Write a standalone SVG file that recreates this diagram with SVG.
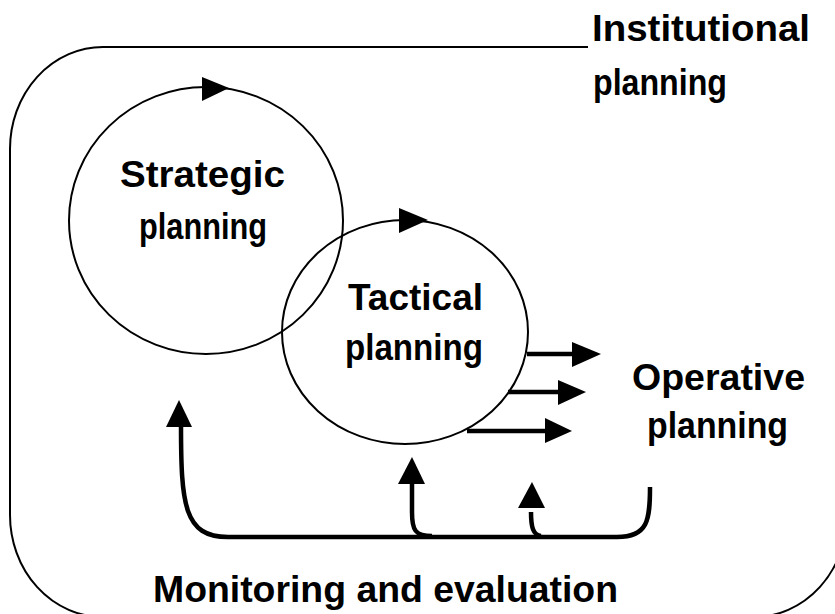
<svg xmlns="http://www.w3.org/2000/svg" width="835" height="614" viewBox="0 0 835 614">
<style>
.thin{fill:none;stroke:#000;stroke-width:2}
.thick{fill:none;stroke:#000;stroke-width:4.5;stroke-linecap:butt}
.head{fill:#000;stroke:none}
.lbl{font-family:"Liberation Sans",Arial,sans-serif;font-weight:bold;font-size:36px;fill:#000}
</style>
<rect width="835" height="614" fill="#fff"/>
<g id="institutional">
<path class="thin" d="M588 47 H103 A93 102 0 0 0 10 149 V515 A93 102 0 0 0 103 617 H754 A93 102 0 0 0 847 515"/>
<text class="lbl" x="592" y="41" textLength="218" lengthAdjust="spacingAndGlyphs">Institutional</text>
<text class="lbl" x="593" y="95" textLength="134" lengthAdjust="spacingAndGlyphs">planning</text>
</g>
<g id="strategic">
<ellipse class="thin" cx="206" cy="220.5" rx="137" ry="133.5"/>
<polygon class="head" points="202,77 229,88 202,101"/>
<text class="lbl" x="120" y="187" textLength="165" lengthAdjust="spacingAndGlyphs">Strategic</text>
<text class="lbl" x="139" y="239" textLength="128" lengthAdjust="spacingAndGlyphs">planning</text>
</g>
<g id="tactical">
<ellipse class="thin" cx="405" cy="332" rx="123" ry="112"/>
<polygon class="head" points="399,208 428,220 399,233"/>
<text class="lbl" x="348" y="310" textLength="135" lengthAdjust="spacingAndGlyphs">Tactical</text>
<text class="lbl" x="345" y="360" textLength="138" lengthAdjust="spacingAndGlyphs">planning</text>
</g>
<g id="operative">
<text class="lbl" x="632" y="390" textLength="173" lengthAdjust="spacingAndGlyphs">Operative</text>
<text class="lbl" x="647" y="438" textLength="141" lengthAdjust="spacingAndGlyphs">planning</text>
</g>
<g id="monitoring">
<text class="lbl" x="153" y="602" textLength="465" lengthAdjust="spacingAndGlyphs">Monitoring and evaluation</text>
</g>
<g id="connectors">
<line class="thick" x1="527" y1="354" x2="573" y2="354"/>
<polygon class="head" points="572,342 601,354 572,367"/>
<line class="thick" x1="508" y1="392" x2="559" y2="392"/>
<polygon class="head" points="558,380 586,392 558,405"/>
<line class="thick" x1="467" y1="431" x2="546" y2="431"/>
<polygon class="head" points="545,418 572,431 545,443"/>
<path class="thick" d="M181 425 C181 505 184 537 228 537 H617 C648 537 650 520 650 487"/>
<polygon class="head" points="166,427 179,400 192,427"/>
<path class="thick" d="M412 482 V512 C412 530 415 536 432 536"/>
<polygon class="head" points="398,484 412,457 425,484"/>
<path class="thick" d="M531 512 C531 527 533 535 541 536"/>
<polygon class="head" points="518,508 532,482 545,508"/>
</g>
</svg>
